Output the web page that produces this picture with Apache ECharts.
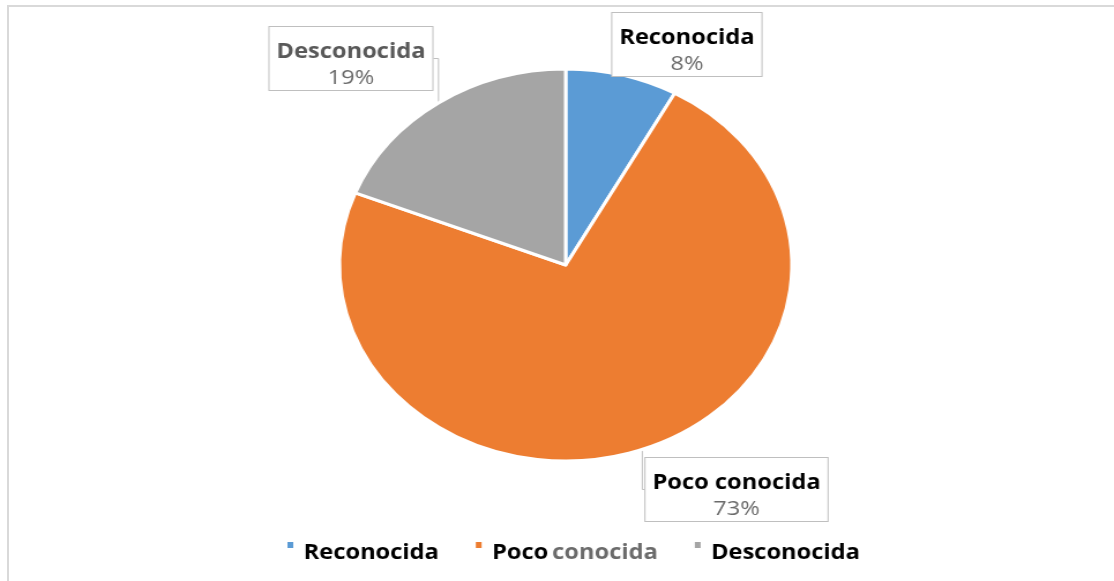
<!DOCTYPE html>
<html>
<head>
<meta charset="utf-8">
<script src="https://cdn.jsdelivr.net/npm/echarts@6/dist/echarts.min.js"></script>
<style>
    html, body { margin: 0; padding: 0; background: #fff; overflow: hidden; }
    #frame {
        position: absolute; left: 7px; top: 5px; right: 0; bottom: 0;
        border-top: 2px solid #d9d9d9; border-left: 2px solid #d9d9d9;
    }
    #chart {
        position: absolute; left: 0; top: 0;
        width: 965px; height: 581px;
        transform: scaleX(1.1544); transform-origin: 0 0;
    }
</style>
</head>
<body>
<div id="frame"></div>
<div id="chart"></div>
<script>
const categories = ['Reconocida', 'Poco conocida', 'Desconocida'];
const values = [8, 73, 19];
const colors = ['#5b9bd5', '#ed7d31', '#a5a5a5'];

// label boxes, unscaled chart coords (center x, top y)
const labelSpots = [[595, 13], [638, 458], [304, 27]];
const labelNameStyle = ['n', 'n', 'ng'];
const showLeader = [false, true, true];

const chart = echarts.init(document.getElementById('chart'));
const font = '"Open Sans", sans-serif';

chart.setOption({
    backgroundColor: 'transparent',
    color: colors,
    legend: {
        data: categories,
        left: 247,
        top: 540,
        padding: 0,
        icon: 'rect',
        itemWidth: 7,
        itemHeight: 8,
        itemGap: 30,
        formatter: (name) => {
            if (name === 'Poco conocida') return '{k|Poco} {g|conocida}';
            return '{k|' + name + '}';
        },
        textStyle: {
            padding: [16, 0, 0, 3],
            rich: {
                k: { fontFamily: font, fontWeight: 'bold', fontSize: 20.5, color: '#000' },
                g: { fontFamily: font, fontWeight: 'bold', fontSize: 20.5, color: '#6b6b6b' }
            }
        }
    },
    series: [
        {
            type: 'pie',
            center: [490, 265],
            radius: 196,
            startAngle: 90,
            clockwise: true,
            avoidLabelOverlap: false,
            itemStyle: {
                borderColor: '#fff',
                borderWidth: 3
            },
            data: categories.map((name, i) => ({
                name: name,
                value: values[i],
                labelLine: { show: showLeader[i] }
            })),
            label: {
                show: true,
                position: 'outside',
                formatter: (p) => '{' + labelNameStyle[p.dataIndex] + '|' + p.name + '}\n{p|' + p.percent.toFixed(0) + '%}',
                backgroundColor: '#fff',
                borderColor: '#bfbfbf',
                borderWidth: 1,
                padding: [11, 6, 0, 6],
                align: 'center',
                rich: {
                    n: { fontFamily: font, fontWeight: 'bold', fontSize: 20.5, color: '#000', lineHeight: 28, align: 'center' },
                    ng: { fontFamily: font, fontWeight: 'bold', fontSize: 20.5, color: '#595959', lineHeight: 28, align: 'center' },
                    p: { fontFamily: font, fontSize: 20.5, color: '#6b6b6b', lineHeight: 24, align: 'center' }
                }
            },
            labelLine: {
                show: true,
                lineStyle: { color: '#bfbfbf', width: 1 }
            },
            labelLayout: (params) => {
                const spot = labelSpots[params.dataIndex];
                return {
                    x: spot[0],
                    y: spot[1],
                    align: 'center',
                    verticalAlign: 'top'
                };
            }
        }
    ]
});

window.addEventListener('resize', () => {
    chart && chart.resize();
});
</script>
</body>
</html>
